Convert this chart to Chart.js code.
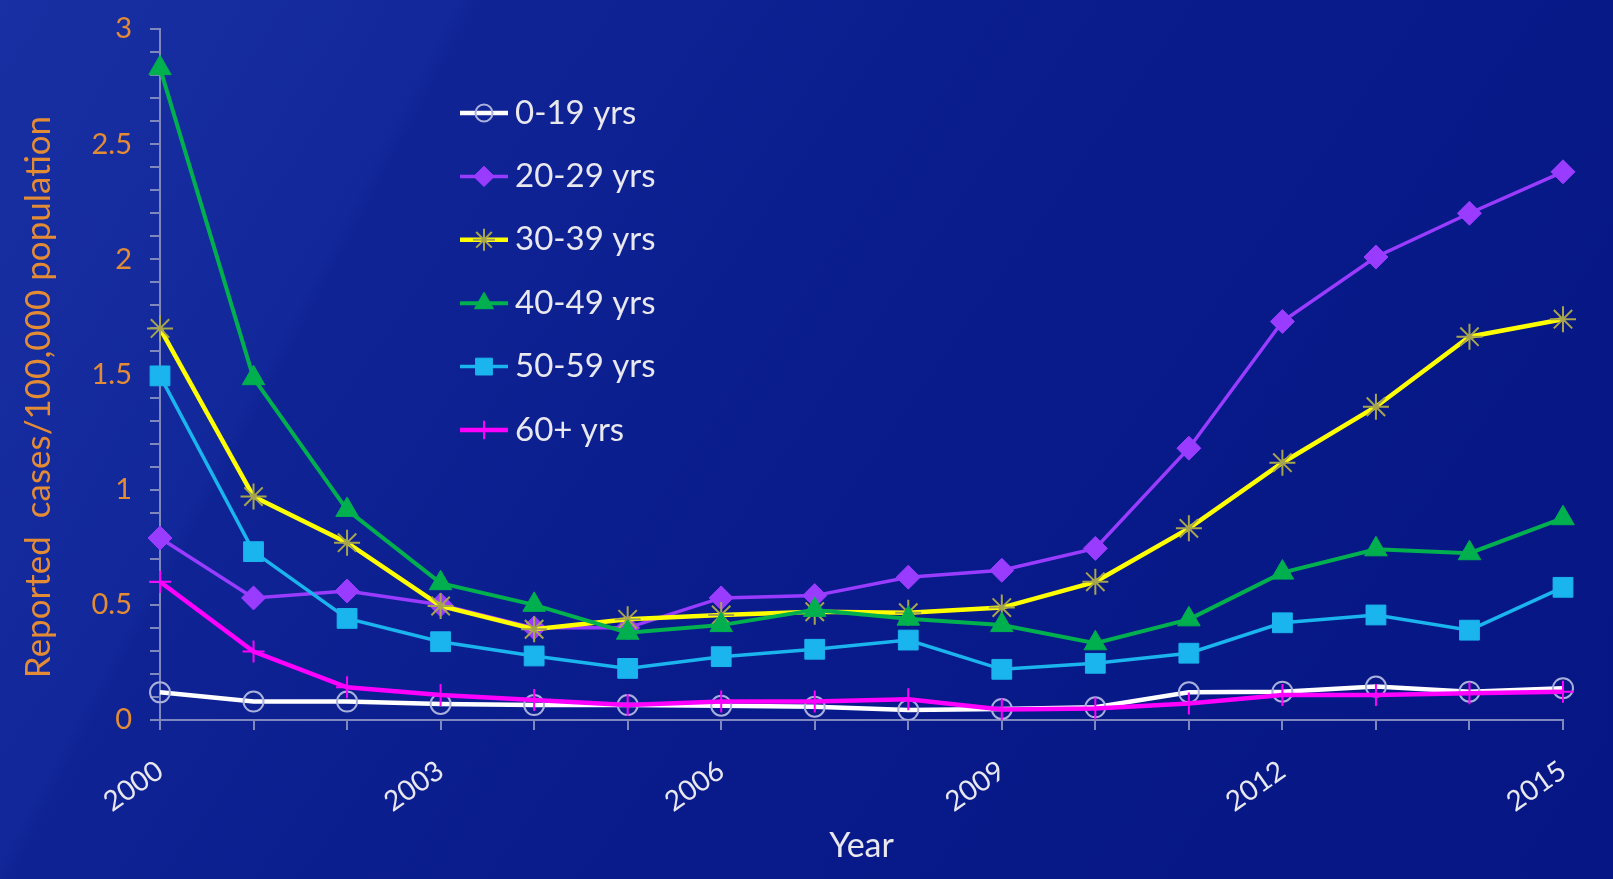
<!DOCTYPE html>
<html>
<head>
<meta charset="utf-8">
<title>Reported cases by age group</title>
<script src="https://cdn.jsdelivr.net/npm/chart.js@4/dist/chart.umd.min.js"></script>
<style>
  html, body { margin:0; padding:0; }
  body {
    width:1613px; height:879px; overflow:hidden;
    background:
      linear-gradient(118deg, rgba(40,70,190,0.25) 0%, rgba(40,70,190,0.12) 22%, rgba(0,0,0,0) 23%),
      linear-gradient(125deg, #13289a 0%, #0e2293 30%, #0a1c8c 50%, #071887 75%, #061684 100%);
  }
  #wrap { position:relative; width:1613px; height:879px; }
</style>
</head>
<body>
<div id="wrap"><canvas id="casesChart"></canvas></div>
<script>
// data
const years = ['2000','2001','2002','2003','2004','2005','2006','2007','2008','2009','2010','2011','2012','2013','2014','2015'];
const seriesNames = ['0-19 yrs','20-29 yrs','30-39 yrs','40-49 yrs','50-59 yrs','60+ yrs'];
const age0_19  = [0.12, 0.08, 0.08, 0.07, 0.065, 0.065, 0.062, 0.058, 0.043, 0.048, 0.055, 0.12, 0.123, 0.145, 0.123, 0.138];
const age20_29 = [0.79, 0.53, 0.56, 0.50, 0.40, 0.40, 0.53, 0.54, 0.62, 0.65, 0.745, 1.18, 1.73, 2.01, 2.20, 2.38];
const age30_39 = [1.70, 0.97, 0.77, 0.495, 0.394, 0.437, 0.456, 0.47, 0.466, 0.488, 0.60, 0.832, 1.117, 1.36, 1.664, 1.74];
const age40_49 = [2.83, 1.484, 0.912, 0.594, 0.50, 0.379, 0.412, 0.478, 0.44, 0.412, 0.333, 0.437, 0.64, 0.741, 0.724, 0.876];
const age50_59 = [1.494, 0.731, 0.441, 0.34, 0.278, 0.224, 0.275, 0.307, 0.347, 0.22, 0.246, 0.29, 0.422, 0.456, 0.39, 0.576];
const age60plus = [0.60, 0.297, 0.142, 0.109, 0.087, 0.065, 0.08, 0.08, 0.09, 0.046, 0.05, 0.072, 0.109, 0.109, 0.116, 0.123];
const yTitle = 'Reported  cases/100,000 population';
const xTitle = 'Year';

const FONT = 'Lato, "Open Sans", sans-serif';
const orange = '#E38B35';
const axisCol = '#7f88bd';

// line colour, marker style, marker colours, widths
const styles = [
  { line:'#ffffff', point:'circle',   pr:10, pFill:'rgba(0,0,0,0)', pStroke:'#a9b0dc', pw:2,   lw:4.5 },
  { line:'#9a3cff', point:'rectRot',  pr:12, pFill:'#9a3cff',       pStroke:'#9a3cff', pw:1,   lw:3.5 },
  { line:'#ffff00', point:'star',     pr:13, pFill:'#ffff00',       pStroke:'#a6a44e', pw:2,   lw:4.5 },
  { line:'#00b04f', point:'triangle', pr:13, pFill:'#00b04f',       pStroke:'#00b04f', pw:1,   lw:4 },
  { line:'#1ab4ee', point:'rect',     pr:14, pFill:'#1ab4ee',       pStroke:'#1ab4ee', pw:1,   lw:3.5 },
  { line:'#ff00ff', point:'cross',    pr:11, pFill:'#ff00ff',       pStroke:'#ff00ff', pw:2,   lw:4.5 }
];
const values = [age0_19, age20_29, age30_39, age40_49, age50_59, age60plus];

const datasets = values.map((v, i) => ({
  label: seriesNames[i],
  data: v,
  borderColor: styles[i].line,
  borderWidth: styles[i].lw,
  pointStyle: styles[i].point,
  pointRadius: styles[i].pr,
  pointBackgroundColor: styles[i].pFill,
  pointBorderColor: styles[i].pStroke,
  pointBorderWidth: styles[i].pw,
  tension: 0,
  order: values.length - i   // later series drawn on top, like the original
}));

// legend drawn inside the plot, top left
const legendBox = { x:460, y:113, lineLen:48, gap:7, row:63.4, font:'33px ' + FONT, color:'#e8e8ee' };
const customLegend = {
  id: 'customLegend',
  afterDraw(chart){
    const c = chart.ctx;
    c.save();
    chart.data.datasets.forEach((ds, i) => {
      const y = legendBox.y + i * legendBox.row;
      c.strokeStyle = ds.borderColor;
      c.lineWidth = ds.borderWidth;
      c.beginPath();
      c.moveTo(legendBox.x, y);
      c.lineTo(legendBox.x + legendBox.lineLen, y);
      c.stroke();
      c.fillStyle = ds.pointBackgroundColor;
      c.strokeStyle = ds.pointBorderColor;
      c.lineWidth = ds.pointBorderWidth;
      Chart.helpers.drawPoint(c, { pointStyle: ds.pointStyle, radius: ds.pointRadius * 0.85, rotation: 0, borderWidth: ds.pointBorderWidth },
        legendBox.x + legendBox.lineLen / 2, y);
      c.fillStyle = legendBox.color;
      c.font = legendBox.font;
      c.textBaseline = 'middle';
      c.textAlign = 'left';
      c.fillText(ds.label, legendBox.x + legendBox.lineLen + legendBox.gap, y);
    });
    c.restore();
  }
};

// y axis title, placed a bit below the axis middle as in the reference
const yTitlePlugin = {
  id: 'yTitlePlugin',
  afterDraw(chart){
    const c = chart.ctx;
    c.save();
    c.translate(39, 397);
    c.rotate(-Math.PI / 2);
    c.fillStyle = orange;
    c.font = '35px ' + FONT;
    c.textAlign = 'center';
    c.textBaseline = 'middle';
    c.fillText(yTitle, 0, 0);
    c.restore();
  }
};

const ctx = document.getElementById('casesChart').getContext('2d');
const chart = new Chart(ctx, {
  type: 'line',
  data: { labels: years, datasets },
  plugins: [customLegend, yTitlePlugin],
  options: {
    responsive: true,
    maintainAspectRatio: false,
    animation: false,
    layout: { padding: { top: 29, right: 50, left: 0, bottom: 0 } },
    plugins: { legend: { display: false }, tooltip: { enabled: false } },
    scales: {
      x: {
        type: 'category',
        offset: false,
        afterFit: s => { s.height = 159; },
        border: { color: axisCol, width: 2 },
        grid: { drawOnChartArea: false, drawTicks: true, tickLength: 10, color: axisCol, lineWidth: 2 },
        ticks: {
          autoSkip: false, minRotation: 35, maxRotation: 35, padding: 24,
          color: '#e8e8ee', font: { family: FONT, size: 28 },
          callback: function(v, i){ return (i % 3 === 0) ? years[i] : ''; }
        },
        title: { display: true, text: xTitle, color: '#e8e8ee', font: { family: FONT, size: 34 }, padding: { top: 0, bottom: 13 } }
      },
      y: {
        min: 0, max: 3,
        afterFit: s => { s.width = 160; s.paddingTop = 0; s.paddingBottom = 0; },
        border: { color: axisCol, width: 2 },
        grid: { drawOnChartArea: false, drawTicks: true, tickLength: 10, color: axisCol, lineWidth: 2 },
        ticks: {
          stepSize: 0.1, maxTicksLimit: 40, autoSkip: false, padding: 18,
          color: orange, font: { family: FONT, size: 29 },
          callback: function(v){
            const r = Math.round(v * 10) / 10;
            return Math.abs(r * 2 - Math.round(r * 2)) < 1e-6 ? String(r) : '';
          }
        }
      }
    }
  }
});
</script>
</body>
</html>
